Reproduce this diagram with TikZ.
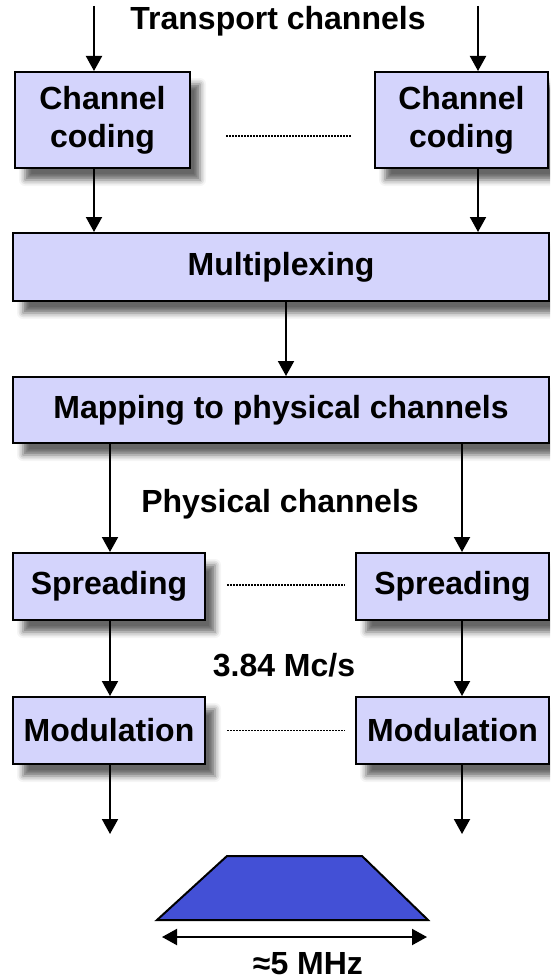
\documentclass[tikz,border=0pt]{standalone}
\usepackage{fontspec}
\setmainfont{Liberation Sans}
\usetikzlibrary{arrows.meta,shadows.blur}
\definecolor{boxfill}{RGB}{212,212,252}
\definecolor{bandblue}{RGB}{67,80,214}
\tikzset{
  blockbox/.style={draw=black, line width=2pt, fill=boxfill, inner sep=0pt,
    align=center, font=\labelfont,
    blur shadow={shadow xshift=10pt, shadow yshift=-12pt, shadow blur radius=6pt, shadow opacity=60}},
  flow/.style={line width=2pt, -{Triangle[width=16pt,length=15pt]}},
  dots/.style={line width=1.5pt, dash pattern=on 1.5pt off 1.5pt},
  caption/.style={anchor=base, inner sep=0pt, font=\labelfont}
}
\newcommand{\labelfont}{\bfseries\fontsize{32pt}{38pt}\selectfont}
\begin{document}
\begin{tikzpicture}[x=1pt, y=-1pt]
  \useasboundingbox (0,0) rectangle (550,979);
  \clip (0,0) rectangle (550,979);

  % processing blocks
  \node[blockbox, minimum width=175pt, minimum height=96pt] (ccL) at (102.5,120) {Channel\\coding};
  \node[blockbox, minimum width=173pt, minimum height=96pt] (ccR) at (461.5,120) {Channel\\coding};
  \node[blockbox, minimum width=536pt, minimum height=68pt] (mux) at (281,267) {Multiplexing};
  \node[blockbox, minimum width=536pt, minimum height=66pt] (map) at (281,410) {Mapping to physical channels};
  \node[blockbox, minimum width=192pt, minimum height=67pt] (spL) at (109,586.5) {Spreading};
  \node[blockbox, minimum width=193pt, minimum height=67pt] (spR) at (452.5,586.5) {Spreading};
  \node[blockbox, minimum width=192pt, minimum height=67pt] (modL) at (109,730.5) {Modulation};
  \node[blockbox, minimum width=193pt, minimum height=67pt] (modR) at (452.5,730.5) {Modulation};

  % captions
  \node[caption] (tc) at (278,30) {Transport channels};
  \node[caption] (pc) at (280,512) {Physical channels};
  \node[caption] (rate) at (284,676) {3.84 Mc/s};
  \node[caption] (bw) at (308,974) {≈5 MHz};

  % channel inputs and outputs
  \coordinate (inL) at (94,6);
  \coordinate (inR) at (478,6);
  \coordinate (phL) at (110,0);
  \coordinate (phR) at (462,0);
  \coordinate (outL) at (110,834);
  \coordinate (outR) at (462,834);

  \draw[flow] (inL) -- (inL |- ccL.north);
  \draw[flow] (inR) -- (inR |- ccR.north);
  \draw[flow] (inL |- ccL.south) -- (inL |- mux.north);
  \draw[flow] (inR |- ccR.south) -- (inR |- mux.north);
  \draw[flow] ([xshift=5pt]mux.south) -- ([xshift=5pt]map.north);
  \draw[flow] (phL |- map.south) -- (phL |- spL.north);
  \draw[flow] (phR |- map.south) -- (phR |- spR.north);
  \draw[flow] (phL |- spL.south) -- (phL |- modL.north);
  \draw[flow] (phR |- spR.south) -- (phR |- modR.north);
  \draw[flow] (phL |- modL.south) -- (outL);
  \draw[flow] (phR |- modR.south) -- (outR);

  % parallel channels
  \draw[dots] ([xshift=35pt,yshift=-16pt]ccL.east) -- ([xshift=-22pt,yshift=-16pt]ccR.west);
  \draw[dots] ([xshift=21pt,yshift=1.5pt]spL.east) -- ([xshift=-10pt,yshift=1.5pt]spR.west);
  \draw[dots] ([xshift=21pt]modL.east) -- ([xshift=-10pt]modR.west);

  % spectrum
  \draw[line width=2pt, fill=bandblue, line join=miter]
    (157,920) -- (227,856) -- (362,856) -- (428,920) -- cycle;
  \coordinate (bwL) at (162,937);
  \coordinate (bwR) at (427,937);
  \draw[line width=2pt, {Triangle[width=16pt,length=15pt]}-{Triangle[width=16pt,length=15pt]}] (bwL) -- (bwR);
\end{tikzpicture}
\end{document}
